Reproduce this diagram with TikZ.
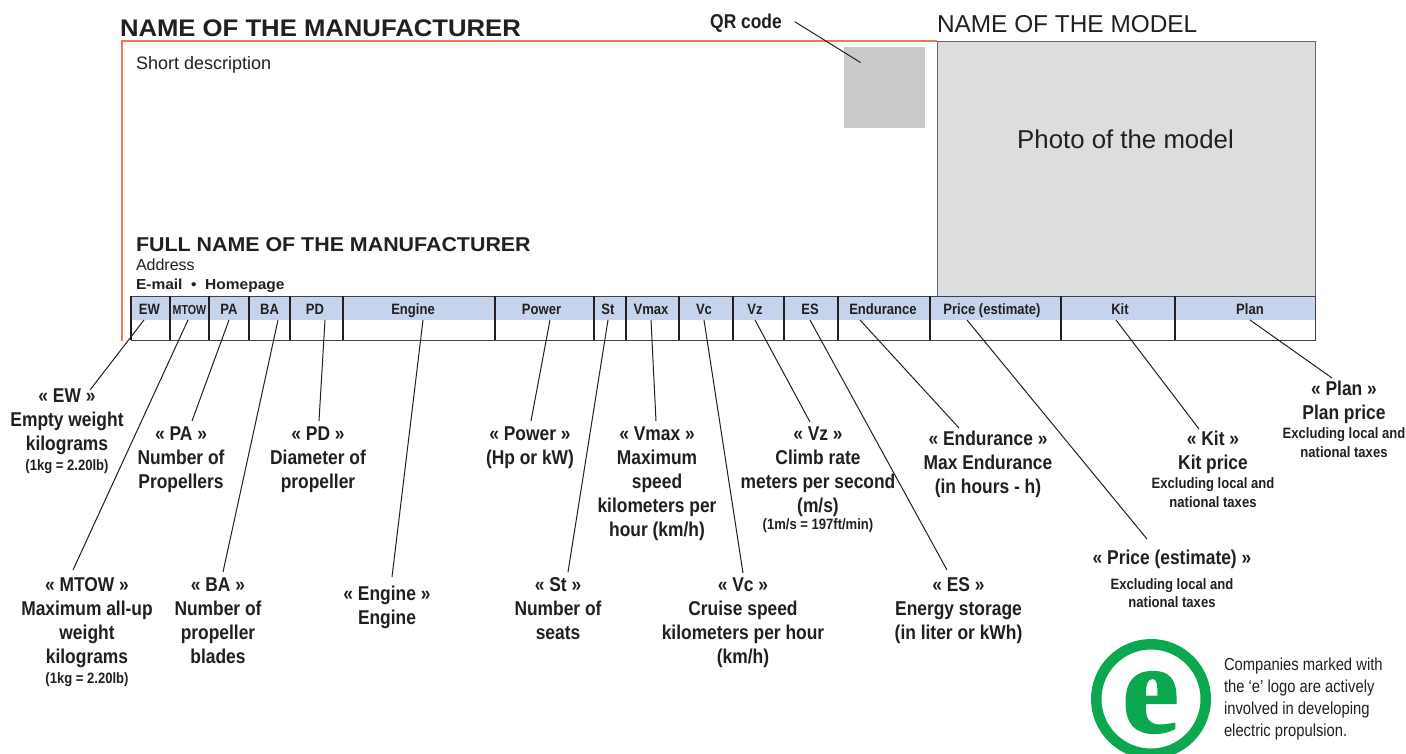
\documentclass[tikz,border=0pt]{standalone}
\usepackage{fontspec}
\setmainfont{Liberation Sans}
\newfontfamily\condbf[FakeStretch=0.87]{Liberation Sans Bold}
\newfontfamily\condrg[FakeStretch=0.85]{Liberation Sans}
\newfontfamily\widebf[FakeStretch=1.07]{Liberation Sans Bold}
\newfontfamily\mtowbf[FakeStretch=0.82]{Liberation Sans Bold}
\newfontfamily\logofont[FakeBold=1.5]{Liberation Serif Bold}
\definecolor{hdrblue}{HTML}{C5D4EC}
\definecolor{redline}{HTML}{EE7A55}
\definecolor{photogray}{HTML}{DCDDDE}
\definecolor{qrgray}{HTML}{C8CACC}
\definecolor{logogreen}{HTML}{0BA84F}
\definecolor{inkc}{HTML}{231F20}
\tikzset{
  x=1pt,y=-1pt,
  every node/.style={inner sep=0pt,outer sep=0pt,text=inkc},
  hdrcell/.style={fill=hdrblue,minimum height=24pt,text height=12pt,text depth=12pt,anchor=north west,font=\condbf\fontsize{15}{18}\selectfont},
  rowline/.style={draw=inkc,line width=1.2pt},
  frameline/.style={draw=inkc!85,line width=0.9pt},
  callout/.style={align=center,anchor=north,font=\condbf\fontsize{20}{24}\selectfont,text=inkc,execute at begin node={\rule{0pt}{14pt}}},
  lead/.style={draw=inkc,line width=1pt},
}
\newcommand{\hdr}[5]{\node[hdrcell,minimum width=#3pt-#2pt] (#1) at (#2,296) {\hspace*{#5pt}\raisebox{-6pt}{#4}};}
\newcommand{\smalltxt}[1]{{\fontsize{15}{18}\selectfont #1}}
\newcommand{\conn}[5]{\draw[lead] ([xshift=#2pt]#1.south) -- ([xshift=#4pt,yshift=#5pt]#3.north);}
\begin{document}
\begin{tikzpicture}
\useasboundingbox (0,0) rectangle (1406,754);
% headings
\node[anchor=base west,font=\widebf\fontsize{24}{28}\selectfont] (maker) at (120,37) {NAME OF THE MANUFACTURER};
\node[anchor=base west,font=\fontsize{24.4}{28}\selectfont] (model) at (937,33) {NAME OF THE MODEL};
\node[anchor=base,font=\condbf\fontsize{20}{24}\selectfont] (qrlab) at (746,29) {QR code};
% frame
\draw[draw=redline,line width=1.6pt] (122,341) -- (122,41) -- (937,41);
\node[draw=inkc!70,line width=0.7pt,fill=photogray,minimum width=378pt,minimum height=255pt,anchor=north west] (photo) at (937,41) {};
\node[font=\fontsize{25.8}{30}\selectfont] (phototxt) at (1125.5,139) {Photo of the model};
\node[fill=qrgray,minimum width=81pt,minimum height=81pt,anchor=north west] (qr) at (844,47) {};
\draw[lead] ([xshift=13pt,yshift=2pt]qrlab.east) -- ([xshift=-24pt,yshift=25pt]qr.center);
\node[anchor=base west,font=\fontsize{18}{22}\selectfont] (short) at (136,70) {Short description};
\node[anchor=base west,font=\widebf\fontsize{20}{24}\selectfont] (full) at (136,252) {FULL NAME OF THE MANUFACTURER};
\node[anchor=base west,font=\fontsize{16}{18}\selectfont] (addr) at (136,271) {Address};
\node[anchor=base west,font=\widebf\fontsize{14.5}{18}\selectfont] (mail) at (136,290) {E-mail\ \ •\ \ Homepage};
% table
\hdr{cEW}{131}{170}{EW}{-2}
\hdr{cMTOW}{170}{209}{\mtowbf\fontsize{13}{14}\selectfont MTOW}{0}
\hdr{cPA}{209}{249}{PA}{0}
\hdr{cBA}{249}{290}{BA}{0}
\hdr{cPD}{290}{343}{PD}{-3}
\hdr{cEngine}{343}{495}{Engine}{-12}
\hdr{cPower}{495}{594}{Power}{-6}
\hdr{cSt}{594}{626}{St}{-4}
\hdr{cVmax}{626}{679}{Vmax}{-3}
\hdr{cVc}{679}{733}{Vc}{-4}
\hdr{cVz}{733}{784}{Vz}{-7}
\hdr{cES}{784}{838}{ES}{-2}
\hdr{cEnd}{838}{930}{Endurance}{-2}
\hdr{cPrice}{930}{1061}{Price (estimate)}{-7}
\hdr{cKit}{1061}{1175}{Kit}{4}
\hdr{cPlan}{1175}{1315}{Plan}{10}
\draw[frameline] (131,296) rectangle (1315,340);
\foreach \xx in {131,170,209,249,290,343,495,594,626,679,733,784,838,930,1061,1175}
  \draw[rowline] (\xx,296) -- (\xx,340);
% callouts
\node[callout] (lEW) at (67,389) {« EW »\\Empty weight\\kilograms\\[-4pt]\smalltxt{(1kg = 2.20lb)}};
\node[callout] (lPA) at (181,427) {« PA »\\Number of\\Propellers};
\node[callout] (lPD) at (318,427) {« PD »\\Diameter of\\propeller};
\node[callout] (lPower) at (530,427) {« Power »\\(Hp or kW)};
\node[callout] (lVmax) at (657,427) {« Vmax »\\Maximum\\speed\\kilometers per\\hour (km/h)};
\node[callout] (lVz) at (818,427) {« Vz »\\Climb rate\\meters per second\\(m/s)\\[-7pt]\smalltxt{(1m/s = 197ft/min)}};
\node[callout] (lEnd) at (988,431) {« Endurance »\\Max Endurance\\(in hours - h)};
\node[callout] (lPrice) at (1172,550) {« Price (estimate) »\\[1pt]\smalltxt{Excluding local and}\\[-6pt]\smalltxt{national taxes}};
\node[callout] (lKit) at (1213,431) {« Kit »\\Kit price\\[-5pt]\smalltxt{Excluding local and}\\[-5pt]\smalltxt{national taxes}};
\node[callout] (lPlan) at (1344,381) {« Plan »\\Plan price\\[-5pt]\smalltxt{Excluding local and}\\[-5pt]\smalltxt{national taxes}};
\node[callout] (lMTOW) at (87,578) {« MTOW »\\Maximum all-up\\weight\\kilograms\\[-4pt]\smalltxt{(1kg = 2.20lb)}};
\node[callout] (lBA) at (218,578) {« BA »\\Number of\\propeller\\blades};
\node[callout] (lEngine) at (387,586) {« Engine »\\Engine};
\node[callout] (lSt) at (558,578) {« St »\\Number of\\seats};
\node[callout] (lVc) at (743,578) {« Vc »\\Cruise speed\\kilometers per hour\\(km/h)};
\node[callout] (lES) at (958.5,578) {« ES »\\Energy storage\\(in liter or kWh)};
% leaders
\conn{cEW}{-6.5}{lEW}{23}{-1}
\conn{cMTOW}{-1.5}{lMTOW}{-14}{8}
\conn{cPA}{0}{lPA}{11}{6}
\conn{cBA}{8.5}{lBA}{5}{6}
\conn{cPD}{8.5}{lPD}{1}{6}
\conn{cEngine}{4}{lEngine}{5}{9}
\conn{cPower}{5.5}{lPower}{1}{6}
\conn{cSt}{-2}{lSt}{10}{6}
\conn{cVmax}{-1.5}{lVmax}{-1}{6}
\conn{cVc}{-2}{lVc}{0}{5}
\conn{cVz}{-3.5}{lVz}{-8}{5}
\conn{cES}{-1}{lES}{-11.5}{8}
\conn{cEnd}{-24}{lEnd}{-29}{3}
\conn{cPrice}{-28.5}{lPrice}{-25}{11}
\conn{cKit}{-2}{lKit}{-14}{2}
\conn{cPlan}{5}{lPlan}{-12}{3}
% logo
\node[draw=logogreen,line width=10.5pt,circle,minimum size=109.5pt,anchor=center] (logo) at (1151,699) {};
\node[anchor=base,text=logogreen,font=\logofont\fontsize{128}{128}\selectfont] (logoe) at (1150.5,732) {e};
\node[anchor=north west,align=left,font=\condrg\fontsize{17.4}{22}\selectfont,execute at begin node={\rule{0pt}{14pt}}] (note) at (1224,658) {Companies marked with\\the ‘e’ logo are actively\\involved in developing\\electric propulsion.};
\end{tikzpicture}
\end{document}
